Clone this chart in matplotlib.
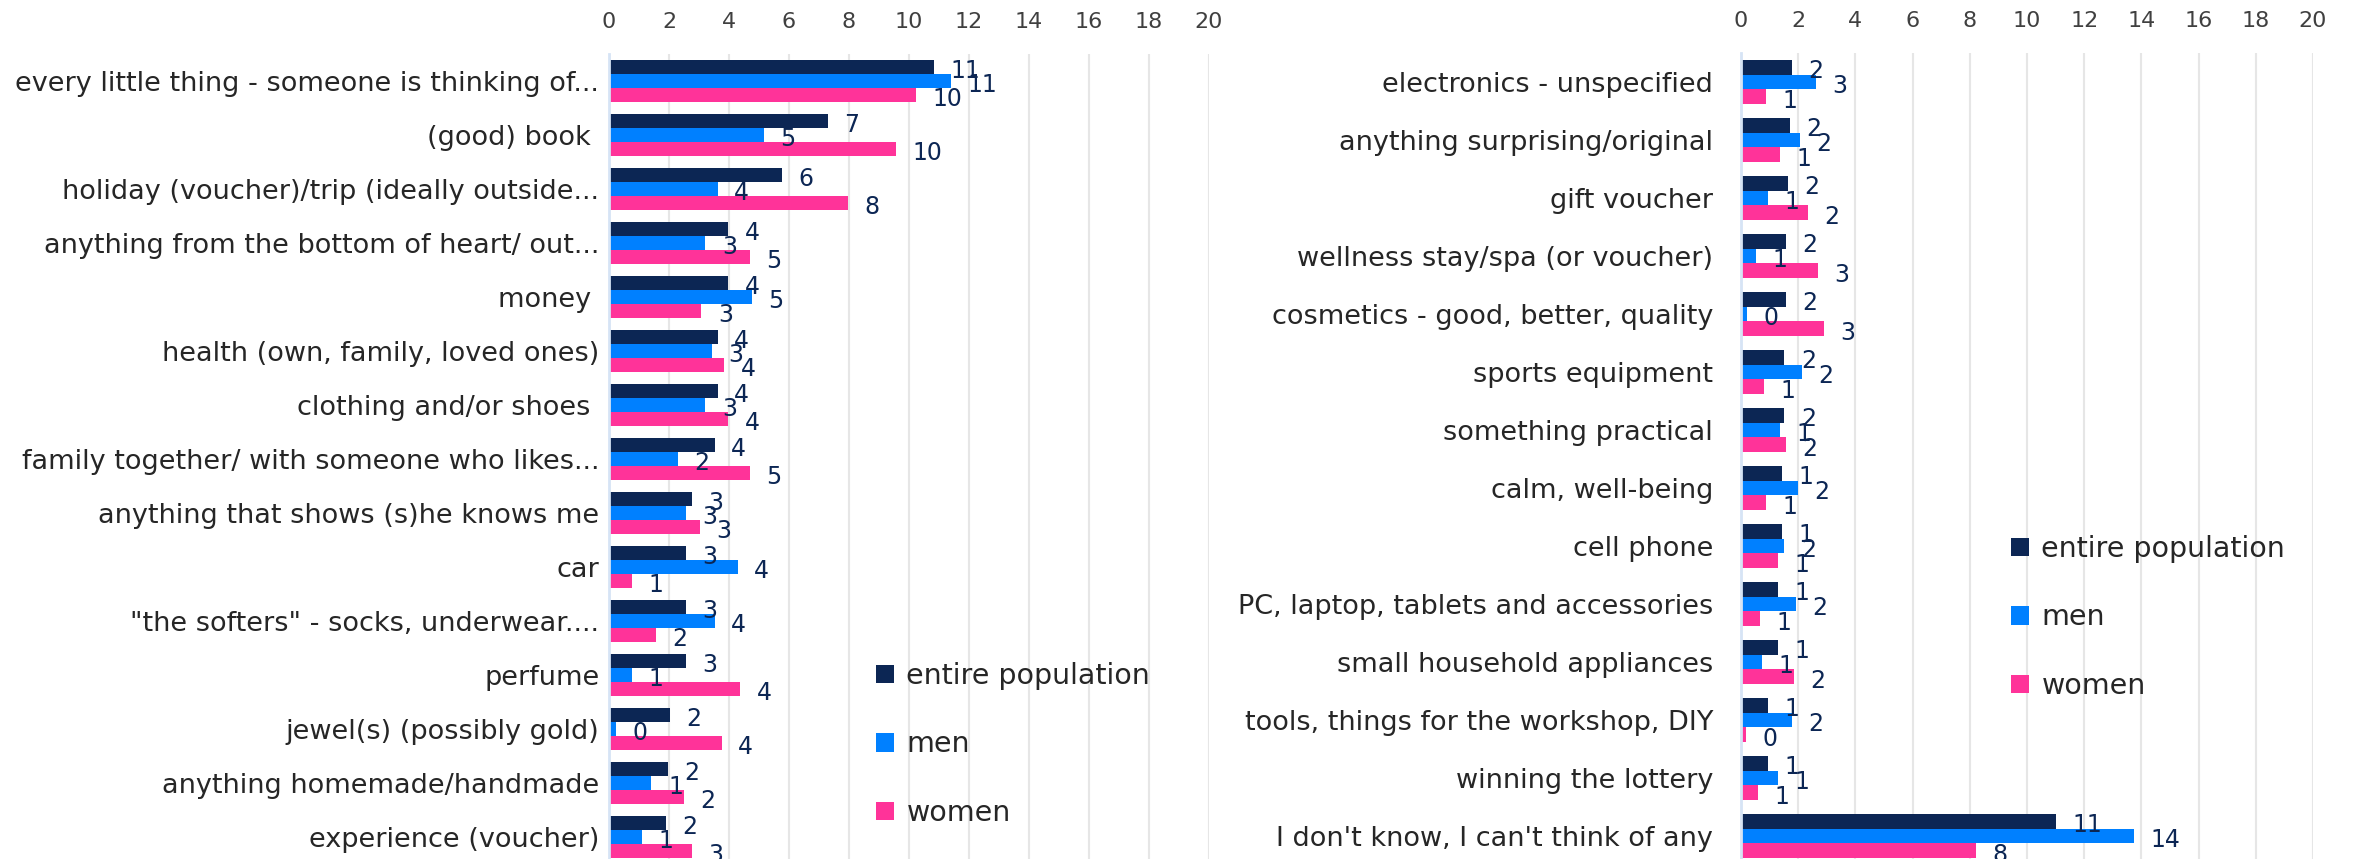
import numpy as np
import matplotlib
matplotlib.use("Agg")
import matplotlib.pyplot as plt

plt.rcParams['font.family'] = ['DejaVu Sans']

# left chart
cats_left = ['every little thing - someone is thinking of...', '(good) book ',
             'holiday (voucher)/trip (ideally outside...', 'anything from the bottom of heart/ out...',
             'money ', 'health (own, family, loved ones)', 'clothing and/or shoes ',
             'family together/ with someone who likes...', 'anything that shows (s)he knows me',
             'car', '"the softers" - socks, underwear....', 'perfume', 'jewel(s) (possibly gold)',
             'anything homemade/handmade', 'experience (voucher)']
entire_left = [10.82, 7.29, 5.76, 3.96, 3.96, 3.62, 3.62, 3.52, 2.75, 2.56, 2.56, 2.56, 2.02, 1.95, 1.89]
men_left = [11.4, 5.15, 3.62, 3.21, 4.75, 3.42, 3.21, 2.29, 2.56, 4.29, 3.52, 0.76, 0.22, 1.41, 1.09]
women_left = [10.22, 9.55, 7.96, 4.69, 3.08, 3.83, 3.96, 4.69, 3.02, 0.76, 1.55, 4.36, 3.75, 2.49, 2.75]

# right chart
cats_right = ['electronics - unspecified', 'anything surprising/original', 'gift voucher',
              'wellness stay/spa (or voucher)', 'cosmetics - good, better, quality', 'sports equipment',
              'something practical', 'calm, well-being', 'cell phone', 'PC, laptop, tablets and accessories',
              'small household appliances', 'tools, things for the workshop, DIY', 'winning the lottery',
              "I don't know, I can't think of any"]
entire_right = [1.77, 1.70, 1.63, 1.56, 1.56, 1.52, 1.52, 1.43, 1.43, 1.29, 1.29, 0.93, 0.93, 11.0]
men_right = [2.61, 2.06, 0.93, 0.51, 0.21, 2.13, 1.36, 1.99, 1.52, 1.92, 0.73, 1.77, 1.29, 13.73]
women_right = [0.87, 1.36, 2.33, 2.69, 2.89, 0.80, 1.56, 0.87, 1.29, 0.66, 1.84, 0.17, 0.59, 8.2]

series_names = ['entire population', 'men', 'women']
colors = ['#0C2654', '#0080FF', '#FF3399']
ticks = np.arange(0, 21, 2)

W, H = 2361, 859
fig = plt.figure(figsize=(W / 100, H / 100), dpi=100)


def draw(rect, cats, data, bh, legend_xy, label_pad):
    ax = fig.add_axes(rect)
    y = np.arange(len(cats))
    bars = []
    for k, (vals, c, name) in enumerate(zip(data, colors, series_names)):
        pos = y + (k - 1) * bh
        b = ax.barh(pos, vals, height=bh, color=c, label=name, zorder=3)
        bars.append(b)
        for p, v in zip(pos, vals):
            ax.annotate(f'{v:.0f}', (v, p), xytext=(12, -3), textcoords='offset points',
                        ha='left', va='center', fontsize=17, color='#0C2654', zorder=4)
    ax.set_xlim(0, 20)
    ax.set_ylim(len(cats) - 0.5, -0.5)
    ax.set_xticks(ticks)
    ax.xaxis.tick_top()
    ax.tick_params(axis='x', length=0, pad=16, labelsize=16, labelcolor='#404040')
    ax.set_yticks(y)
    ax.set_yticklabels(cats)
    ax.tick_params(axis='y', length=0, pad=label_pad, labelsize=19.5, labelcolor='#262626')
    ax.grid(axis='x', color='#E6E6E6', linewidth=1.5, zorder=0)
    for s in ['top', 'right', 'bottom']:
        ax.spines[s].set_visible(False)
    ax.spines['left'].set_color('#D6E4F5')
    ax.spines['left'].set_linewidth(2)
    ax.spines['left'].set_zorder(5)
    fig.legend(handles=bars, labels=series_names, loc='upper left',
               bbox_to_anchor=legend_xy, bbox_transform=fig.transFigure,
               frameon=False, fontsize=20.5, handlelength=0.62, handleheight=0.62,
               handletextpad=0.45, labelspacing=1.42, borderpad=0, borderaxespad=0,
               labelcolor='#262626')
    return ax


draw([609 / W, -5 / H, 600 / W, 810 / H], cats_left,
     [entire_left, men_left, women_left], 0.26, (876 / W, (H - 662) / H), 7)
draw([1741 / W, -6 / H, 572 / W, 812 / H], cats_right,
     [entire_right, men_right, women_right], 0.255, (2011 / W, (H - 535) / H), 20)

fig.savefig('out.png', dpi=100)
